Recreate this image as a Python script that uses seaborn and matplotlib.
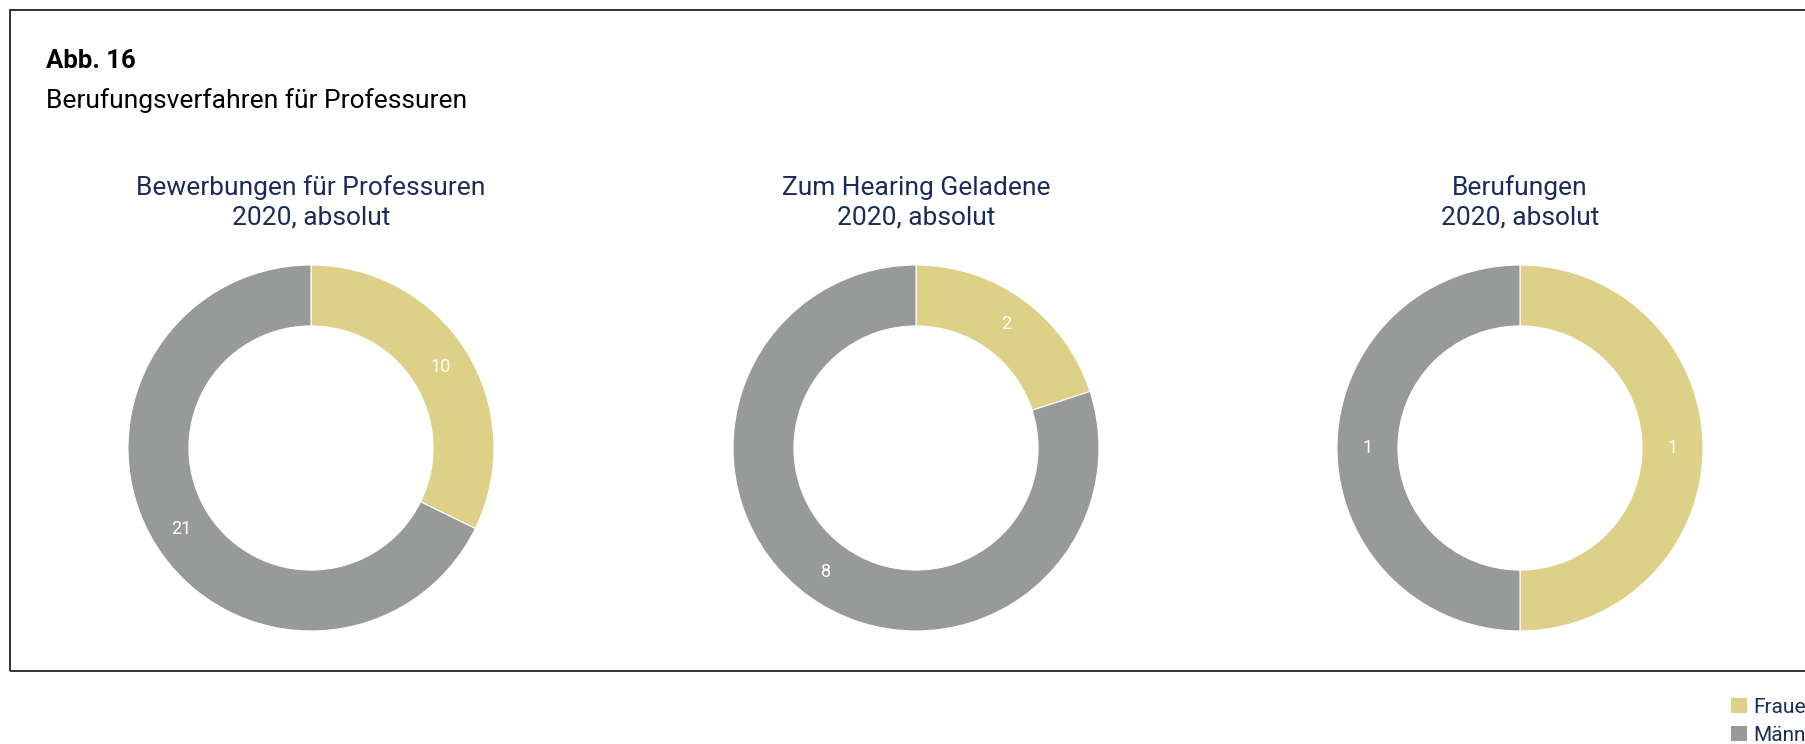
import seaborn as sns
import matplotlib.pyplot as plt
from matplotlib.patches import Rectangle, Patch

# data
groups = ["Frauen", "Männer"]
titles = ["Bewerbungen für Professuren", "Zum Hearing Geladene", "Berufungen"]
subtitle = "2020, absolut"
frauen = [10, 2, 1]
maenner = [21, 8, 1]

colors = ["#ddd188", "#979a98"]
navy = "#1c2b5a"

sns.set_theme(style="white")
plt.rcParams["font.family"] = ["Roboto", "DejaVu Sans"]

W, H = 1806, 744
fig = plt.figure(figsize=(W / 100, H / 100), dpi=100)

# frame around the chart (runs off the right edge)
fig.patches.append(Rectangle((10 / W, 1 - 671 / H), 1.2, (671 - 10) / H,
                             transform=fig.transFigure, fill=False,
                             edgecolor="#222222", linewidth=1.3))

fig.text(46 / W, 1 - 61 / H, "Abb. 16", fontsize=18.5, fontweight="bold",
         color="black", va="center", ha="left")
fig.text(46 / W, 1 - 101 / H, "Berufungsverfahren für Professuren", fontsize=19,
         color="black", va="center", ha="left")

centers = [311, 916, 1520]
cy = 448
r = 183
for i, cx in enumerate(centers):
    ax = fig.add_axes([(cx - r) / W, (H - cy - r) / H, 2 * r / W, 2 * r / H])
    vals = [frauen[i], maenner[i]]
    wedges, texts = ax.pie(vals, colors=colors, startangle=90, counterclock=False,
                           radius=1, labels=[str(v) for v in vals], labeldistance=0.835,
                           wedgeprops=dict(width=0.333, edgecolor="white", linewidth=0.8),
                           textprops=dict(color="white", fontsize=13, ha="center", va="center"))
    ax.set_xlim(-1, 1)
    ax.set_ylim(-1, 1)
    ax.set_aspect("equal")
    ax.axis("off")
    fig.text(cx / W, 1 - 188 / H, titles[i], fontsize=19, color=navy, ha="center", va="center")
    fig.text(cx / W, 1 - 217 / H, subtitle, fontsize=19, color=navy, ha="center", va="center")

handles = [Patch(facecolor=c, edgecolor="none") for c in colors]
fig.legend(handles, groups, loc="upper left", bbox_to_anchor=(1731 / W, 1 - 698 / H),
           frameon=False, fontsize=15, handlelength=0.75, handleheight=0.75,
           handletextpad=0.3, labelspacing=0.42, labelcolor=navy, borderpad=0,
           borderaxespad=0)

fig.savefig("out.png", dpi=100)
